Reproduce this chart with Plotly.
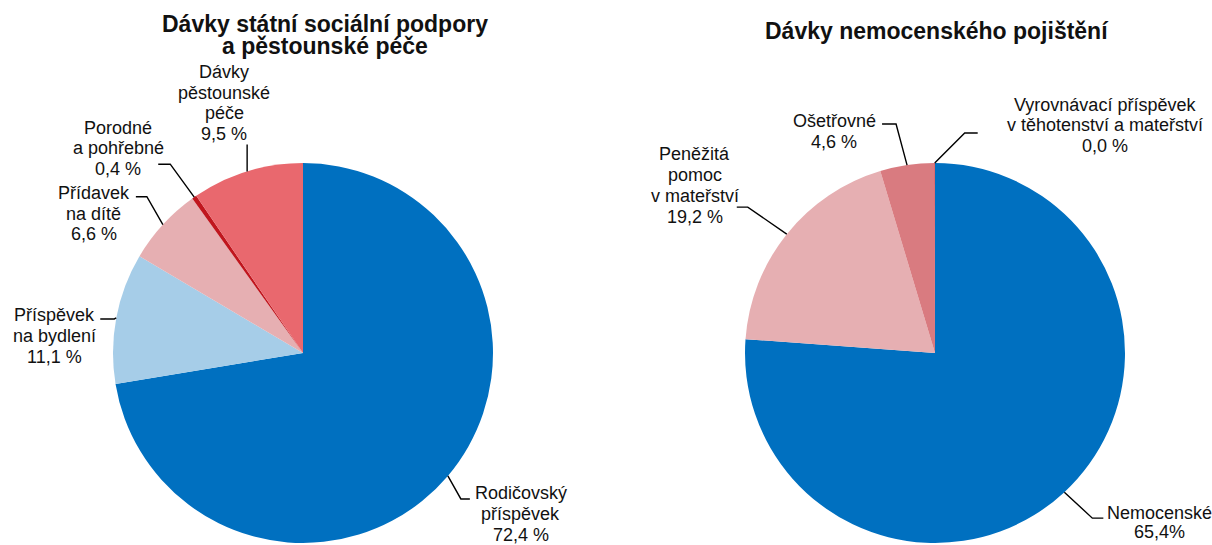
import math
import plotly.graph_objects as go

W, H = 1212, 545
OFFSET = 0  # body margin is removed by the post script below

# ---------------- data ----------------
ssp_categories = ["Rodičovský příspěvek", "Příspěvek na bydlení", "Přídavek na dítě",
                  "Porodné a pohřebné", "Dávky pěstounské péče"]
ssp_values = [72.4, 11.1, 6.6, 0.4, 9.5]
ssp_label_lines = [["Rodičovský", "příspěvek", "72,4 %"],
                   ["Příspěvek", "na bydlení", "11,1 %"],
                   ["Přídavek", "na dítě", "6,6 %"],
                   ["Porodné", "a pohřebné", "0,4 %"],
                   ["Dávky", "pěstounské", "péče", "9,5 %"]]

nem_categories = ["Nemocenské", "Peněžitá pomoc v mateřství", "Ošetřovné",
                  "Vyrovnávací příspěvek v těhotenství a mateřství"]
nem_values = [76.2, 19.2, 4.6, 0.05]
nem_label_lines = [["Nemocenské", "65,4%"],
                   ["Peněžitá", "pomoc", "v mateřství", "19,2 %"],
                   ["Ošetřovné", "4,6 %"],
                   ["Vyrovnávací příspěvek", "v těhotenství a mateřství", "0,0 %"]]

titles = [["Dávky státní sociální podpory", "a pěstounské péče"],
          ["Dávky nemocenského pojištění"]]

# ---------------- style / layout ----------------
FONT = "Liberation Sans, Arial, sans-serif"
TEXT_COLOR = "#111111"
LABEL_SIZE = 18
TITLE_SIZE = 23

ssp_colors = ["#0070C0", "#A6CDE8", "#E6AFB2", "#C0161E", "#E9686E"]
nem_colors = ["#0070C0", "#E6AFB2", "#D97B80", "#C8262E"]

R = 190
pies = [
    dict(values=ssp_values, labels=ssp_categories, colors=ssp_colors, lines=ssp_label_lines,
         cx=303, cy=353,
         # (elbow dx, elbow dy, horizontal length, label dx, label dy, line spacing)
         leaders=[(13, 23, 9, 51, 15, 21),
                  (-2, 1, -14, -46, 17, 21),
                  (-16, -28, -11, -42, 17, 20.5),
                  (-24, -33, -12, -40, -16, 20.5),
                  (0, -27, 0, -23, -41.5, 20.5)]),
    dict(values=nem_values, labels=nem_categories, colors=nem_colors, lines=nem_label_lines,
         cx=935, cy=353,
         leaders=[(28, 26, 11, 56, 4.5, 19),
                  (-39, -27, -11, -42, -22, 21),
                  (-11, -41, -14, -48, 7, 21),
                  (30, -30, 13, 127, -8, 20.5)]),
]
title_pos = [(325, 24, 22.5), (937, 31, 22)]


def px(x):
    return (x - OFFSET) / W


def py(y):
    return 1 - (y - OFFSET) / H


fig = go.Figure()
shapes = []
annotations = []

for p in pies:
    cx, cy = p["cx"], p["cy"]
    fig.add_trace(go.Pie(
        values=p["values"], labels=p["labels"], sort=False, direction="clockwise",
        rotation=0, textinfo="none", hoverinfo="label+percent",
        marker=dict(colors=p["colors"], line=dict(width=0)),
        domain=dict(x=[px(cx - R), px(cx + R)], y=[py(cy + R), py(cy - R)]),
        showlegend=False,
    ))
    total = sum(p["values"])
    cum = 0.0
    for v, lines, ld in zip(p["values"], p["lines"], p["leaders"]):
        theta = math.radians(360.0 * (cum + v / 2.0) / total)
        cum += v
        x0 = cx + R * math.sin(theta)
        y0 = cy - R * math.cos(theta)
        ex, ey, hl, lx, ly, sp = ld
        x1, y1 = x0 + ex, y0 + ey
        x2, y2 = x1 + hl, y1
        shapes.append(dict(type="path", xref="paper", yref="paper",
                           path=f"M {px(x0)},{py(y0)} L {px(x1)},{py(y1)} L {px(x2)},{py(y2)}",
                           line=dict(color="#000000", width=1.4)))
        tcx, tcy = x2 + lx, y2 + ly
        n = len(lines)
        for i, t in enumerate(lines):
            yy = tcy + (i - (n - 1) / 2.0) * sp
            annotations.append(dict(x=px(tcx), y=py(yy), xref="paper", yref="paper",
                                    text=t, showarrow=False, xanchor="center", yanchor="middle",
                                    font=dict(family=FONT, size=LABEL_SIZE, color=TEXT_COLOR)))

for tl, (tx, ty, tsp) in zip(titles, title_pos):
    for i, t in enumerate(tl):
        annotations.append(dict(x=px(tx), y=py(ty + i * tsp), xref="paper", yref="paper",
                                text=f"<b>{t}</b>", showarrow=False, xanchor="center", yanchor="middle",
                                font=dict(family=FONT, size=TITLE_SIZE, color=TEXT_COLOR)))

fig.update_layout(
    width=W, height=H, autosize=False,
    margin=dict(l=0, r=0, t=0, b=0, pad=0),
    paper_bgcolor="white", plot_bgcolor="white",
    shapes=shapes, annotations=annotations,
    showlegend=False,
)

fig.write_html("out.html", config={"displayModeBar": False},
               post_script="document.body.style.margin='0';document.body.style.overflow='hidden';")
